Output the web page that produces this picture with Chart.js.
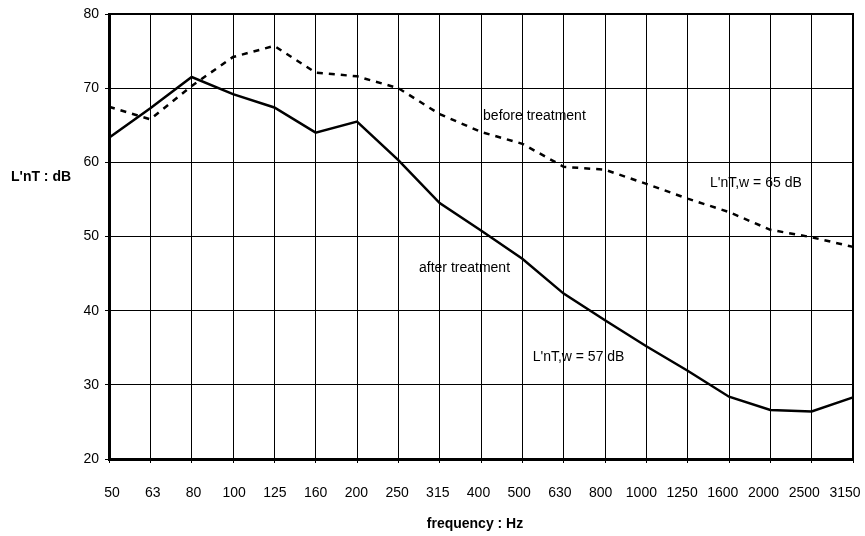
<!DOCTYPE html>
<html>
<head>
<meta charset="utf-8">
<script src="https://cdn.jsdelivr.net/npm/chart.js@4/dist/chart.umd.min.js"></script>
<style>
  html, body { margin: 0; padding: 0; background: #fff; }
  #wrap { width: 865px; height: 536px; }
</style>
</head>
<body>
<div id="wrap"><canvas id="lntChart" width="865" height="536"></canvas></div>
<script>
// third-octave band centre frequencies
const frequencies = ['50', '63', '80', '100', '125', '160', '200', '250', '315', '400',
  '500', '630', '800', '1000', '1250', '1600', '2000', '2500', '3150'];

// L'nT values in dB
const beforeTreatment = [67.5, 65.8, 70.3, 74.2, 75.7, 72.1, 71.6, 70.0, 66.5, 64.1,
  62.5, 59.4, 59.0, 57.1, 55.1, 53.3, 50.9, 49.9, 48.6];
const afterTreatment = [63.3, 67.3, 71.5, 69.2, 67.4, 64.0, 65.5, 60.3, 54.5, 50.8,
  47.0, 42.3, 38.7, 35.2, 31.9, 28.4, 26.6, 26.4, 28.3];

const yTicks = [20, 30, 40, 50, 60, 70, 80];

// text notes placed in data units (category index, dB)
const notes = [
  { text: 'before treatment', x: 9.05, y: 66.2 },
  { text: "L'nT,w = 65 dB", x: 14.54, y: 57.2 },
  { text: 'after treatment', x: 7.5, y: 45.8 },
  { text: "L'nT,w = 57 dB", x: 10.25, y: 33.8 }
];

const FONT = 'Liberation Sans, Arial, sans-serif';

// frame, x labels, axis titles and notes
const extrasPlugin = {
  id: 'extras',
  afterDraw(chart) {
    const ctx = chart.ctx;
    const area = chart.chartArea;
    const xs = chart.scales.x, ys = chart.scales.y;
    ctx.save();
    ctx.strokeStyle = '#000';
    ctx.lineWidth = 2;
    ctx.beginPath();
    ctx.moveTo(area.left, area.top);
    ctx.lineTo(area.right, area.top);
    ctx.lineTo(area.right, area.bottom);
    ctx.stroke();

    ctx.fillStyle = '#000';
    ctx.font = '14px ' + FONT;
    ctx.textBaseline = 'middle';

    // x labels: the original spaces them a little tighter than the grid
    ctx.textAlign = 'center';
    const n = frequencies.length;
    frequencies.forEach((f, i) => {
      const shift = 3 - 11 * i / (n - 1);
      ctx.fillText(f, xs.getPixelForTick(i) + shift, area.bottom + 34);
    });

    ctx.textAlign = 'left';
    notes.forEach(nt => {
      ctx.fillText(nt.text, xs.getPixelForValue(nt.x), ys.getPixelForValue(nt.y));
    });

    ctx.font = 'bold 14px ' + FONT;
    ctx.fillText("L'nT : dB", 11, ys.getPixelForValue(58));
    ctx.textAlign = 'center';
    ctx.fillText('frequency : Hz', (area.left + area.right) / 2 - 6, 524);
    ctx.restore();
  }
};

let context = document.getElementById('lntChart').getContext('2d');
let lntChart = new Chart(context, {
  type: 'line',
  data: {
    labels: frequencies,
    datasets: [{
      label: 'before treatment',
      data: beforeTreatment,
      borderColor: '#000',
      borderWidth: 2.5,
      borderDash: [6, 6],
      pointRadius: 0,
      tension: 0,
      fill: false
    },
    {
      label: 'after treatment',
      data: afterTreatment,
      borderColor: '#000',
      borderWidth: 2.5,
      pointRadius: 0,
      tension: 0,
      fill: false
    }]
  },
  options: {
    responsive: false,
    animation: false,
    layout: { padding: { top: 14, right: 12, left: 0, bottom: 0 } },
    plugins: {
      legend: { display: false },
      tooltip: { enabled: false }
    },
    scales: {
      x: {
        offset: false,
        grid: { color: '#000', lineWidth: 1, tickLength: 4, offset: false },
        border: { color: '#000', width: 3 },
        ticks: { display: false, autoSkip: false, maxRotation: 0 },
        afterFit(scale) {
          scale.height = 77;
          scale.paddingLeft = 0;
          scale.paddingRight = 0;
        }
      },
      y: {
        min: 20,
        max: 80,
        afterBuildTicks(scale) { scale.ticks = yTicks.map(v => ({ value: v })); },
        grid: { color: '#000', lineWidth: 1, tickLength: 4 },
        border: { color: '#000', width: 3 },
        ticks: {
          color: '#000',
          font: { family: FONT, size: 14 },
          padding: 6
        },
        afterFit(scale) {
          scale.width = 109;
          scale.paddingTop = 0;
          scale.paddingBottom = 0;
        }
      }
    }
  },
  plugins: [extrasPlugin]
});
</script>
</body>
</html>
